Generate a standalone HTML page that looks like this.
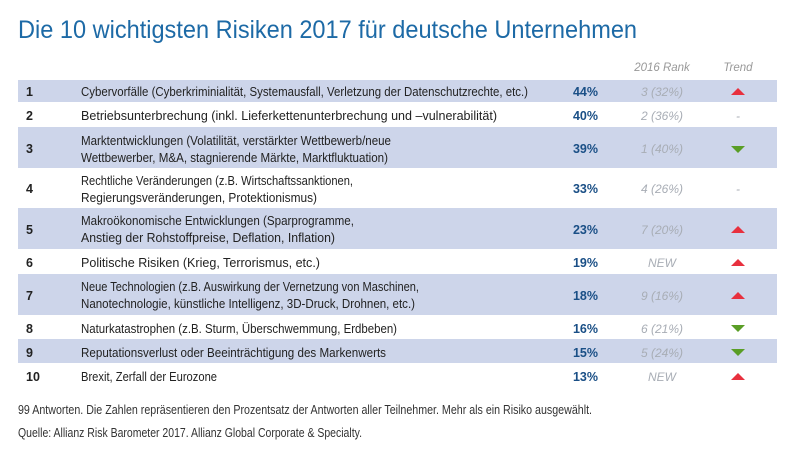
<!DOCTYPE html>
<html><head><meta charset="utf-8"><style>
html,body{margin:0;padding:0;background:#fff;width:800px;height:455px;overflow:hidden}
text{font-family:"Liberation Sans",sans-serif}
.t{font-size:13px;fill:#222}
.n{font-size:12.5px;font-weight:bold;fill:#222}
.p{font-size:12.5px;font-weight:bold;fill:#1a4f86;text-anchor:end}
.r{font-size:12px;font-style:italic;fill:#a8adb5;text-anchor:middle}
.h{font-size:11.5px;font-style:italic;fill:#999;text-anchor:middle}
.f{font-size:12.5px;fill:#333}
</style></head><body>
<svg width="800" height="455" xmlns="http://www.w3.org/2000/svg">
<text x="18" y="38" font-size="25" fill="#1d6aa6" textLength="619" lengthAdjust="spacingAndGlyphs">Die 10 wichtigsten Risiken 2017 für deutsche Unternehmen</text>
<text class="h" x="662" y="71">2016 Rank</text>
<text class="h" x="738" y="71">Trend</text>
<g fill="#cdd5ea">
<rect x="18" y="80" width="759" height="22"/>
<rect x="18" y="127" width="759" height="41"/>
<rect x="18" y="208" width="759" height="41"/>
<rect x="18" y="274" width="759" height="41"/>
<rect x="18" y="339" width="759" height="24"/>
</g>
<g>
<text class="n" x="26" y="96">1</text>
<text class="t" x="81" y="96" textLength="447" lengthAdjust="spacingAndGlyphs">Cybervorfälle (Cyberkriminialität, Systemausfall, Verletzung der Datenschutzrechte, etc.)</text>
<text class="p" x="598" y="96">44%</text><text class="r" x="662" y="96">3 (32%)</text>

<text class="n" x="26" y="120">2</text>
<text class="t" x="81" y="120" textLength="416" lengthAdjust="spacingAndGlyphs">Betriebsunterbrechung (inkl. Lieferkettenunterbrechung und –vulnerabilität)</text>
<text class="p" x="598" y="120">40%</text><text class="r" x="662" y="120">2 (36%)</text>
<text class="r" x="738" y="120">-</text>

<text class="n" x="26" y="153">3</text>
<text class="t" x="81" y="145" textLength="310" lengthAdjust="spacingAndGlyphs">Marktentwicklungen (Volatilität, verstärkter Wettbewerb/neue</text>
<text class="t" x="81" y="162" textLength="307" lengthAdjust="spacingAndGlyphs">Wettbewerber, M&amp;A, stagnierende Märkte, Marktfluktuation)</text>
<text class="p" x="598" y="153">39%</text><text class="r" x="662" y="153">1 (40%)</text>

<text class="n" x="26" y="193">4</text>
<text class="t" x="81" y="185" textLength="272" lengthAdjust="spacingAndGlyphs">Rechtliche Veränderungen (z.B. Wirtschaftssanktionen,</text>
<text class="t" x="81" y="202" textLength="236" lengthAdjust="spacingAndGlyphs">Regierungsveränderungen, Protektionismus)</text>
<text class="p" x="598" y="193">33%</text><text class="r" x="662" y="193">4 (26%)</text>
<text class="r" x="738" y="193">-</text>

<text class="n" x="26" y="234">5</text>
<text class="t" x="81" y="225" textLength="273" lengthAdjust="spacingAndGlyphs">Makroökonomische Entwicklungen (Sparprogramme,</text>
<text class="t" x="81" y="242" textLength="254" lengthAdjust="spacingAndGlyphs">Anstieg der Rohstoffpreise, Deflation, Inflation)</text>
<text class="p" x="598" y="234">23%</text><text class="r" x="662" y="234">7 (20%)</text>

<text class="n" x="26" y="267">6</text>
<text class="t" x="81" y="267" textLength="239" lengthAdjust="spacingAndGlyphs">Politische Risiken (Krieg, Terrorismus, etc.)</text>
<text class="p" x="598" y="267">19%</text><text class="r" x="662" y="267">NEW</text>

<text class="n" x="26" y="300">7</text>
<text class="t" x="81" y="291" textLength="338" lengthAdjust="spacingAndGlyphs">Neue Technologien (z.B. Auswirkung der Vernetzung von Maschinen,</text>
<text class="t" x="81" y="308" textLength="334" lengthAdjust="spacingAndGlyphs">Nanotechnologie, künstliche Intelligenz, 3D-Druck, Drohnen, etc.)</text>
<text class="p" x="598" y="300">18%</text><text class="r" x="662" y="300">9 (16%)</text>

<text class="n" x="26" y="333">8</text>
<text class="t" x="81" y="333" textLength="316" lengthAdjust="spacingAndGlyphs">Naturkatastrophen (z.B. Sturm, Überschwemmung, Erdbeben)</text>
<text class="p" x="598" y="333">16%</text><text class="r" x="662" y="333">6 (21%)</text>

<text class="n" x="26" y="357">9</text>
<text class="t" x="81" y="357" textLength="305" lengthAdjust="spacingAndGlyphs">Reputationsverlust oder Beeinträchtigung des Markenwerts</text>
<text class="p" x="598" y="357">15%</text><text class="r" x="662" y="357">5 (24%)</text>

<text class="n" x="26" y="381">10</text>
<text class="t" x="81" y="381" textLength="136" lengthAdjust="spacingAndGlyphs">Brexit, Zerfall der Eurozone</text>
<text class="p" x="598" y="381">13%</text><text class="r" x="662" y="381">NEW</text>
</g>
<g fill="#e8303e">
<polygon points="731,95 745,95 738,88"/>
<polygon points="731,233 745,233 738,226"/>
<polygon points="731,266 745,266 738,259"/>
<polygon points="731,299 745,299 738,292"/>
<polygon points="731,380 745,380 738,373"/>
</g>
<g fill="#5a9e26">
<polygon points="731,146 745,146 738,153"/>
<polygon points="731,325 745,325 738,332"/>
<polygon points="731,349 745,349 738,356"/>
</g>
<text class="f" x="18" y="414" textLength="574" lengthAdjust="spacingAndGlyphs">99 Antworten. Die Zahlen repräsentieren den Prozentsatz der Antworten aller Teilnehmer. Mehr als ein Risiko ausgewählt.</text>
<text class="f" x="18" y="437" textLength="344" lengthAdjust="spacingAndGlyphs">Quelle: Allianz Risk Barometer 2017. Allianz Global Corporate &amp; Specialty.</text>
</svg>
</body></html>
